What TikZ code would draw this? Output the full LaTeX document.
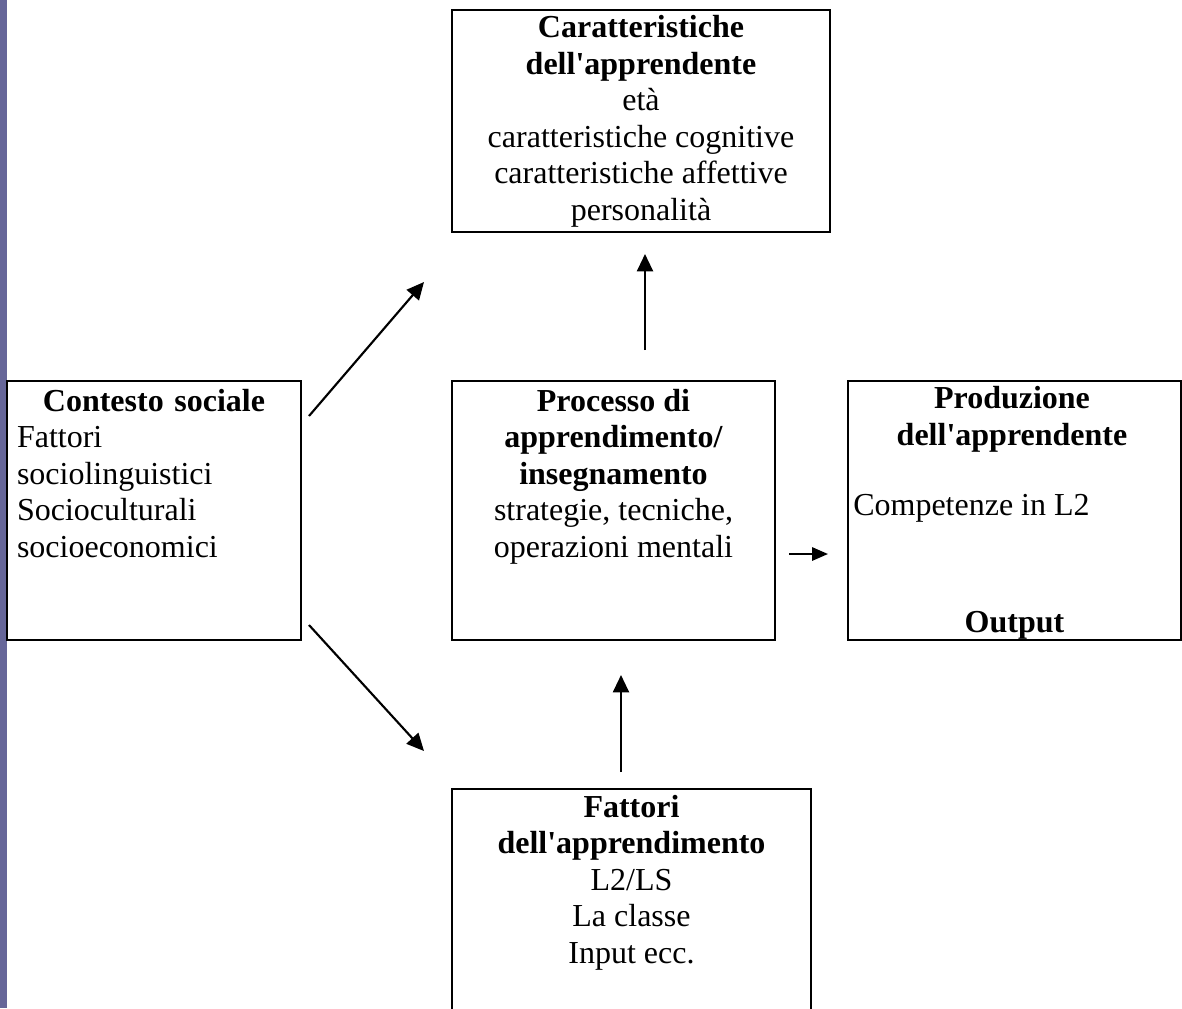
\documentclass[tikz,border=0pt]{standalone}
\usepackage{fontspec}
\setmainfont{Liberation Serif}[Ligatures=TeXOff]
\usetikzlibrary{arrows.meta}
\definecolor{stripcol}{RGB}{102,102,153}
\begin{document}
\begin{tikzpicture}[x=0.75pt,y=-0.75pt,
  box/.style={draw,line width=1.5pt,inner sep=0pt,outer sep=0pt,rectangle},
  txt/.style={inner sep=0pt,anchor=north,font=\fontsize{24}{27.4}\selectfont},
  one/.style={inner sep=0pt,anchor=base,font=\fontsize{24}{27.4}\selectfont},
  arr/.style={line width=1.6pt,-{Triangle[length=13pt,width=12pt]}},
]
\useasboundingbox (0,0) rectangle (1182,1008);
\clip (0,0) rectangle (1182,1008);
\fill[stripcol] (0,0) rectangle (7,1008);

% boxes
\node[box,minimum width=283.5pt,minimum height=166.5pt] (car) at (641,121) {};
\node[box,minimum width=220.5pt,minimum height=194.25pt] (con) at (154,510.5) {};
\node[box,minimum width=242.25pt,minimum height=194.25pt] (pro) at (613.5,510.5) {};
\node[box,minimum width=249.75pt,minimum height=194.25pt] (prod) at (1014.5,510.5) {};
\node[box,minimum width=269.25pt,minimum height=180.75pt] (fat) at (631.5,909.5) {};

% texts
\node[txt,align=center] (cart) at (641,12)
  {\strut\textbf{Caratteristiche}\\\textbf{dell'apprendente}\\età\\caratteristiche cognitive\\caratteristiche affettive\\personalità};
\node[txt,align=left,text width=205.5pt] (cont) at (154,385.3)
  {\makebox[205.5pt][c]{\strut\textbf{Contesto sociale}}\\Fattori\\sociolinguistici\\Socioculturali\\socioeconomici};
\node[txt,align=center] (prot) at (613.5,385.5)
  {\strut\textbf{Processo di}\\\textbf{apprendimento/}\\\textbf{insegnamento}\\strategie, tecniche,\\operazioni mentali};
\node[txt,align=center] (prodt) at (1012,383)
  {\strut\textbf{Produzione}\\\textbf{dell'apprendente}};
\node[one,anchor=base west] (comp) at (853,515) {Competenze in L2};
\node[one] (outp) at (1014.5,632) {\textbf{Output}};
\node[txt,align=center] (fatt) at (631.5,791.5)
  {\strut\textbf{Fattori}\\\textbf{dell'apprendimento}\\L2/LS\\La classe\\Input ecc.};

% arrow end points
\coordinate (a1s) at (309,416);
\coordinate (a1e) at (424,282);
\coordinate (a2s) at (309,625);
\coordinate (a2e) at (424,751);
\coordinate (a3s) at (645,350);
\coordinate (a3e) at (645,254);
\coordinate (a4s) at (621,772);
\coordinate (a4e) at (621,675);
\coordinate (a5s) at (789,554);
\coordinate (a5e) at (828,554);

\draw[arr] (a1s) -- (a1e);
\draw[arr] (a2s) -- (a2e);
\draw[arr] (a3s) -- (a3e);
\draw[arr] (a4s) -- (a4e);
\draw[line width=1.6pt,-{Triangle[length=12pt,width=10pt]}] (a5s) -- (a5e);
\end{tikzpicture}
\end{document}
